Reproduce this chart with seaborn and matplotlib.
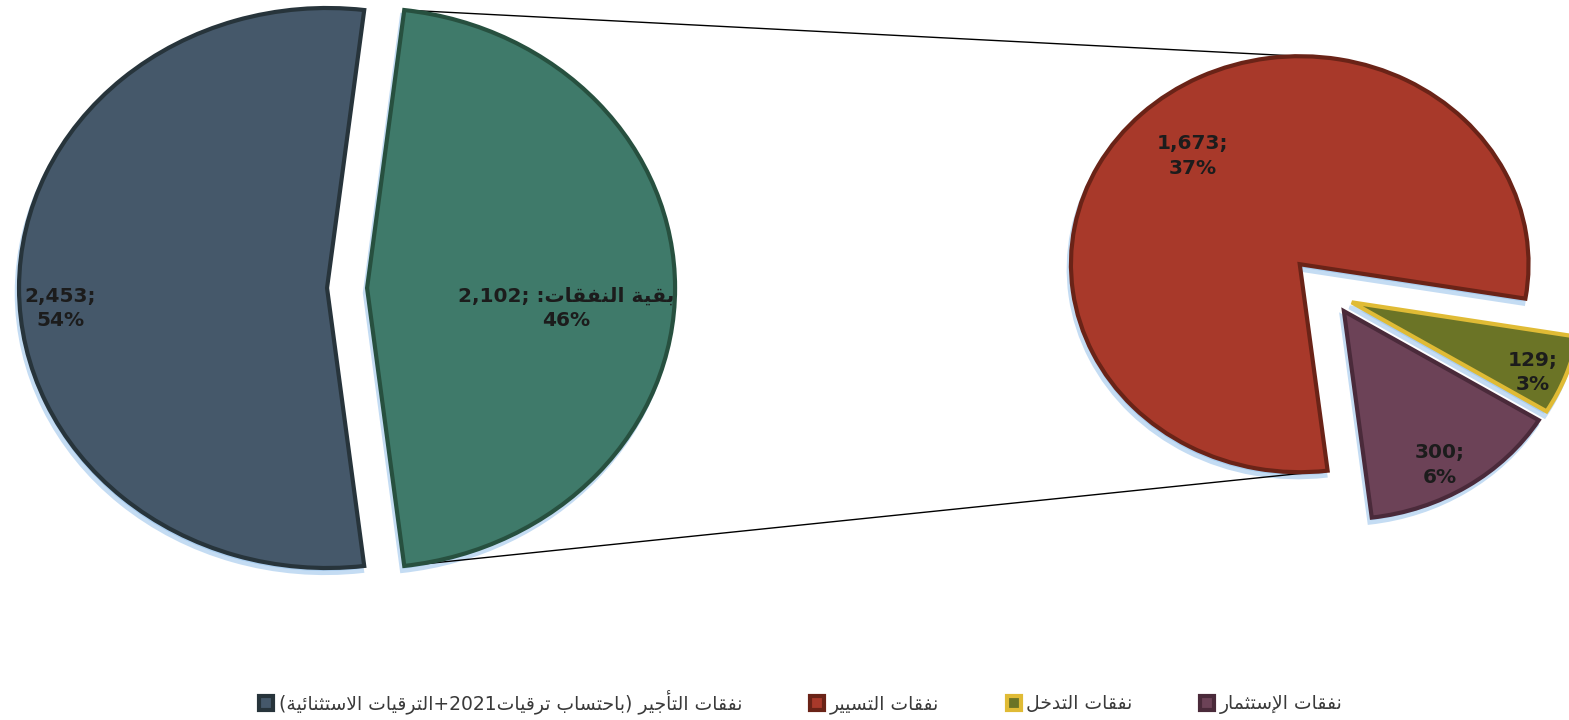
import re
import numpy as np
import seaborn as sns
import matplotlib
matplotlib.use("Agg")
import matplotlib.pyplot as plt

# ---- data ----
main_labels = ["نفقات التأجير (باحتساب ترقيات2021+الترقيات الاستثنائية)", "بقية النفقات:"]
main_values = [2453, 2102]
main_pcts = [54, 46]

sub_labels = ["نفقات التسيير", "نفقات التدخل", "نفقات الإستثمار"]
sub_values = [1673, 129, 300]
sub_pcts = [37, 3, 6]

main_colors = ["#45586a", "#3f7a6a"]
main_edges = ["#27343b", "#27503f"]
sub_colors = ["#a8392a", "#6b7426", "#6c4257"]
sub_edges = ["#6a2317", "#e0bb35", "#4a2a3a"]

# ---- minimal arabic shaping (presentation forms) + rtl ordering ----
FORMS = {
    'ا': ('\uFE8D', '\uFE8E', None, None),
    'أ': ('\uFE83', '\uFE84', None, None),
    'إ': ('\uFE87', '\uFE88', None, None),
    'ب': ('\uFE8F', '\uFE90', '\uFE91', '\uFE92'),
    'ة': ('\uFE93', '\uFE94', None, None),
    'ت': ('\uFE95', '\uFE96', '\uFE97', '\uFE98'),
    'ث': ('\uFE99', '\uFE9A', '\uFE9B', '\uFE9C'),
    'ج': ('\uFE9D', '\uFE9E', '\uFE9F', '\uFEA0'),
    'ح': ('\uFEA1', '\uFEA2', '\uFEA3', '\uFEA4'),
    'خ': ('\uFEA5', '\uFEA6', '\uFEA7', '\uFEA8'),
    'د': ('\uFEA9', '\uFEAA', None, None),
    'ر': ('\uFEAD', '\uFEAE', None, None),
    'س': ('\uFEB1', '\uFEB2', '\uFEB3', '\uFEB4'),
    'ف': ('\uFED1', '\uFED2', '\uFED3', '\uFED4'),
    'ق': ('\uFED5', '\uFED6', '\uFED7', '\uFED8'),
    'ل': ('\uFEDD', '\uFEDE', '\uFEDF', '\uFEE0'),
    'م': ('\uFEE1', '\uFEE2', '\uFEE3', '\uFEE4'),
    'ن': ('\uFEE5', '\uFEE6', '\uFEE7', '\uFEE8'),
    'ي': ('\uFEF1', '\uFEF2', '\uFEF3', '\uFEF4'),
    'ئ': ('\uFE89', '\uFE8A', '\uFE8B', '\uFE8C'),
}
LAM_ALEF = {'ا': ('\uFEFB', '\uFEFC'), 'أ': ('\uFEF7', '\uFEF8'), 'إ': ('\uFEF9', '\uFEFA')}
MIRROR = {'(': ')', ')': '('}


def dual(c):
    return c in FORMS and FORMS[c][2] is not None


def shape(s):
    res = []
    i = 0
    while i < len(s):
        c = s[i]
        if c not in FORMS:
            res.append(c)
            i += 1
            continue
        jp = i > 0 and dual(s[i - 1])
        if c == 'ل' and i + 1 < len(s) and s[i + 1] in LAM_ALEF:
            iso, fin = LAM_ALEF[s[i + 1]]
            res.append(fin if jp else iso)
            i += 2
            continue
        jn = dual(c) and i + 1 < len(s) and s[i + 1] in FORMS
        f = FORMS[c]
        res.append(f[3] if (jp and jn) else f[1] if jp else f[2] if jn else f[0])
        i += 1
    return ''.join(res)


def rtl(s):
    runs = re.findall(r'[0-9][0-9.,]*|[^0-9]+', shape(s))
    out = []
    for r in runs:
        if r[0].isdigit():
            out.append(r)
        else:
            out.append(''.join(MIRROR.get(ch, ch) for ch in reversed(r)))
    return ''.join(reversed(out))


# ---- figure ----
sns.set_theme(style="white")
plt.rcParams['font.family'] = ['DejaVu Sans']

W, H = 1569, 720
SX = 1.1  # horizontal stretch of the excel pies

fig = plt.figure(figsize=(W / 100, H / 100), dpi=100)
ax = fig.add_axes([0, 0, 1, 1])

main_start = 180 - 180 * main_values[0] / sum(main_values)
main_kw = dict(radius=280, center=(315.5, 432), startangle=main_start,
               explode=[18.2, 18.2])
sub_kw = dict(radius=208, center=(1212, 424), startangle=277, counterclock=False,
              explode=[44, 18, 18])

# glow / shadow under the slices
for kw, vals in [(main_kw, main_values), (sub_kw, sub_values)]:
    sh = dict(kw)
    sh['center'] = (kw['center'][0] - 2, kw['center'][1] - 5)
    ax.pie(vals, colors=['#a9cdef'] * len(vals),
           wedgeprops=dict(linewidth=3, edgecolor='#c4dcf3', zorder=0), **sh)

main_w, _ = ax.pie(main_values, colors=main_colors,
                   wedgeprops=dict(linewidth=3, zorder=2), **main_kw)
sub_w, _ = ax.pie(sub_values, colors=sub_colors,
                  wedgeprops=dict(linewidth=3, zorder=2), **sub_kw)
for w, ec in zip(list(main_w) + list(sub_w), main_edges + sub_edges):
    w.set_edgecolor(ec)


def pt(w, ang, frac=1.0):
    a = np.deg2rad(ang)
    return (w.center[0] + frac * w.r * np.cos(a), w.center[1] + frac * w.r * np.sin(a))


# connector lines between the two pies
green, red = main_w[1], sub_w[0]
p1, q1 = pt(green, green.theta2), pt(red, 90)
p2, q2 = pt(green, green.theta1), pt(red, red.theta2)
ax.plot([p1[0], q1[0]], [p1[1], q1[1]], color='black', lw=1, zorder=1)
ax.plot([p2[0], q2[0]], [p2[1], q2[1]], color='black', lw=1, zorder=1)

# data labels
lab_kw = dict(ha='center', va='center', fontsize=14.5, fontweight='bold',
              color='#1c1c1c', linespacing=1.35, zorder=5)
main_pos = [(0.87, 184.9), (0.65, -6.5)]
main_txt = ["{:,};\n{}%".format(main_values[0], main_pcts[0]),
            "{:,}; {}\n{}%".format(main_values[1], rtl(main_labels[1]), main_pcts[1])]
for w, (fr, ang), t in zip(main_w, main_pos, main_txt):
    ax.text(*pt(w, ang, fr), t, **lab_kw)

sub_pos = [(0.70, 132), (0.86, -23), (0.85, -60.4)]
for w, (fr, ang), v, p in zip(sub_w, sub_pos, sub_values, sub_pcts):
    ax.text(*pt(w, ang, fr), "{:,};\n{}%".format(v, p), **lab_kw)

# legend (rtl text, marker on the left)
handles = [main_w[0]] + list(sub_w)
labels = [rtl(main_labels[0])] + [rtl(s) for s in sub_labels]
leg = ax.legend(handles, labels, loc='center', bbox_to_anchor=(801 / W, 1 - 702 / H),
                ncol=4, frameon=False, fontsize=13.5, handlelength=0.75, handleheight=0.75,
                handletextpad=0.3, columnspacing=3.6)
for t in leg.get_texts():
    t.set_color('#3a3a3a')

ax.set_aspect('auto')
ax.set_xlim(0, W / SX)
ax.set_ylim(0, H)
ax.axis('off')

fig.savefig('out.png', dpi=100, facecolor='white')
